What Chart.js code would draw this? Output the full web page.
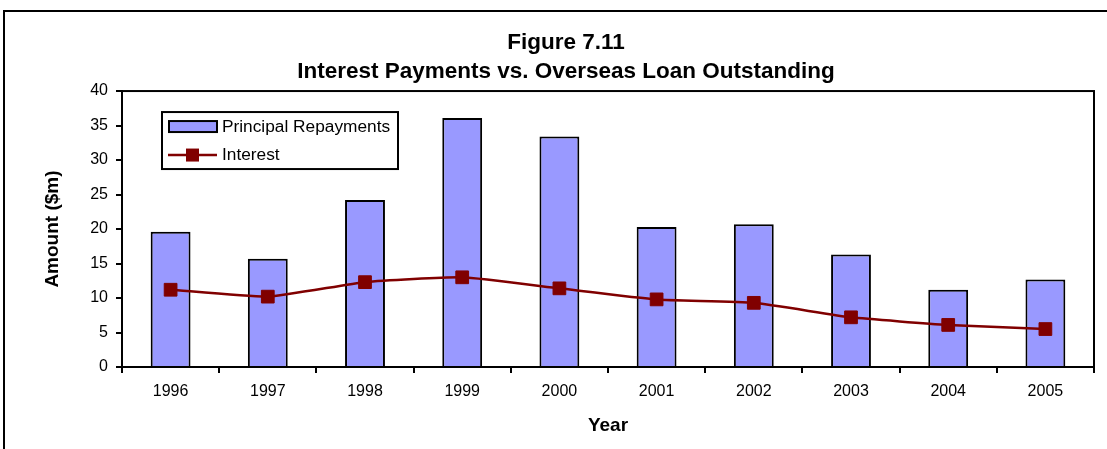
<!DOCTYPE html>
<html>
<head>
<meta charset="utf-8">
<title>Figure 7.11</title>
<script src="https://cdn.jsdelivr.net/npm/chart.js@4.4.1/dist/chart.umd.min.js"></script>
<style>
  html, body { margin: 0; padding: 0; background: #fff; }
  #wrap { position: relative; width: 1107px; height: 449px; overflow: hidden; background: #fff; }
  #wrap canvas { position: absolute; left: 0; top: 0; }
  #frame { position: absolute; left: 3px; top: 10px; width: 1200px; height: 600px;
           border-left: 2px solid #000; border-top: 2px solid #000; pointer-events: none; }
</style>
</head>
<body>
<div id="wrap">
  <canvas id="chart" width="1107" height="449"></canvas>
  <div id="frame"></div>
</div>
<script>
// ---- data ----
const years = ['1996', '1997', '1998', '1999', '2000', '2001', '2002', '2003', '2004', '2005'];
const principalRepayments = [19.6, 15.7, 24.2, 36.1, 33.4, 20.3, 20.7, 16.3, 11.2, 12.7];
const interest = [11.2, 10.2, 12.3, 13.0, 11.4, 9.8, 9.3, 7.2, 6.1, 5.5];
const titleLines = ['Figure 7.11', 'Interest Payments vs. Overseas Loan Outstanding'];
const seriesNames = ['Principal Repayments', 'Interest'];
const yAxisRange = { min: 0, max: 40, step: 5 };
const axisTitles = { x: 'Year', y: 'Amount ($m)' };

const FONT = "'Liberation Sans', Arial, Helvetica, sans-serif";

// Black frame around the plotting rectangle
const plotFrame = {
  id: 'plotFrame',
  afterDatasetsDraw(chart) {
    const { ctx, chartArea: a } = chart;
    ctx.save();
    ctx.strokeStyle = '#000';
    ctx.lineWidth = 2;
    ctx.strokeRect(a.left, a.top, a.right - a.left, a.bottom - a.top);
    ctx.restore();
  }
};

// Boxed legend placed inside the plot, upper left
const insetLegend = {
  id: 'insetLegend',
  afterDraw(chart) {
    const { ctx, chartArea: a } = chart;
    const [bar, line] = chart.data.datasets;
    const x0 = a.left + 40, y0 = a.top + 21, w = 236, h = 57;
    ctx.save();
    ctx.fillStyle = '#fff';
    ctx.fillRect(x0, y0, w, h);
    ctx.strokeStyle = '#000';
    ctx.lineWidth = 2;
    ctx.strokeRect(x0, y0, w, h);

    // bar swatch
    ctx.fillStyle = bar.backgroundColor;
    ctx.fillRect(x0 + 7, y0 + 9, 48, 11);
    ctx.strokeStyle = bar.borderColor;
    ctx.strokeRect(x0 + 7, y0 + 9, 48, 11);

    // line swatch with marker
    const ly = y0 + 43;
    ctx.strokeStyle = line.borderColor;
    ctx.lineWidth = line.borderWidth;
    ctx.beginPath();
    ctx.moveTo(x0 + 6, ly);
    ctx.lineTo(x0 + 55, ly);
    ctx.stroke();
    ctx.fillStyle = line.pointBackgroundColor;
    ctx.fillRect(x0 + 30.5 - 6.5, ly - 6.5, 13, 13);

    // labels
    ctx.fillStyle = '#000';
    ctx.font = '17.3px ' + FONT;
    ctx.textBaseline = 'middle';
    ctx.textAlign = 'left';
    ctx.fillText(bar.label, x0 + 60, y0 + 15);
    ctx.fillText(line.label, x0 + 60, ly);
    ctx.restore();
  }
};

new Chart(document.getElementById('chart'), {
  data: {
    labels: years,
    datasets: [
      {
        type: 'bar',
        label: seriesNames[0],
        data: principalRepayments,
        backgroundColor: '#9999FF',
        borderColor: '#000',
        borderWidth: 2,
        barPercentage: 0.41,
        categoryPercentage: 1.0,
        order: 1
      },
      {
        type: 'line',
        label: seriesNames[1],
        data: interest,
        borderColor: '#800000',
        borderWidth: 2.5,
        tension: 0.15,
        pointStyle: 'rect',
        pointRadius: 9,
        pointBackgroundColor: '#800000',
        pointBorderColor: '#800000',
        pointBorderWidth: 1,
        order: 0
      }
    ]
  },
  options: {
    responsive: false,
    animation: false,
    events: [],
    layout: { padding: { left: 38, right: 13, top: 0, bottom: 0 } },
    plugins: {
      legend: { display: false },
      tooltip: { enabled: false },
      title: {
        display: true,
        text: titleLines,
        color: '#000',
        font: { family: FONT, size: 22.5, weight: 'bold', lineHeight: 1.29 },
        padding: { top: 28, bottom: 5 }
      }
    },
    scales: {
      x: {
        type: 'category',
        offset: true,
        grid: {
          offset: true,
          drawOnChartArea: false,
          drawTicks: true,
          tickLength: 6,
          color: '#000',
          lineWidth: 2
        },
        border: { display: true, color: '#000', width: 2 },
        ticks: { color: '#000', font: { family: FONT, size: 16 }, padding: 9, maxRotation: 0 },
        title: {
          display: true,
          text: axisTitles.x,
          color: '#000',
          font: { family: FONT, size: 19, weight: 'bold' },
          padding: { top: 0, bottom: 12 }
        },
        afterFit(scale) { scale.height = 82; }
      },
      y: {
        type: 'linear',
        min: yAxisRange.min,
        max: yAxisRange.max,
        grid: {
          drawOnChartArea: false,
          drawTicks: true,
          tickLength: 6,
          color: '#000',
          lineWidth: 2
        },
        border: { display: true, color: '#000', width: 2 },
        ticks: { stepSize: yAxisRange.step, color: '#000', font: { family: FONT, size: 16 }, padding: 8 },
        title: {
          display: true,
          text: axisTitles.y,
          color: '#000',
          font: { family: FONT, size: 19, weight: 'bold' },
          padding: { top: 3, bottom: 0 }
        },
        afterFit(scale) { scale.width = 84; }
      }
    }
  },
  plugins: [plotFrame, insetLegend]
});
</script>
</body>
</html>
